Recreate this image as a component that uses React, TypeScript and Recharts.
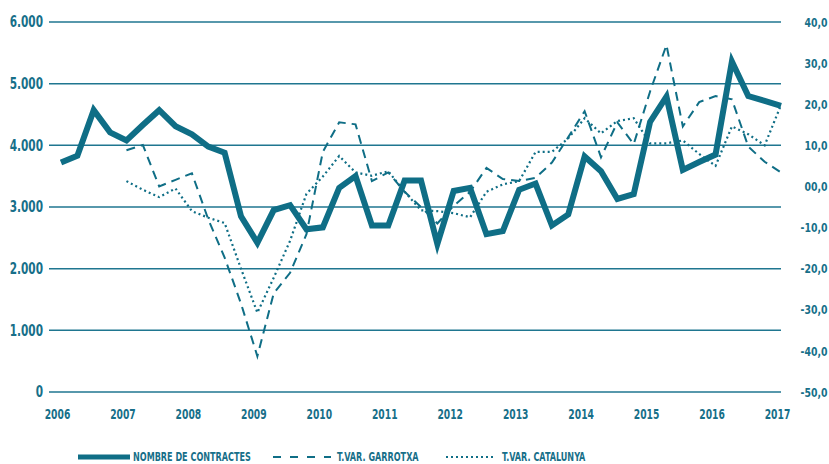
import React from 'react';
import { LineChart, Line, XAxis, YAxis, CartesianGrid } from 'recharts';

const FONT = "'Liberation Sans Narrow','DejaVu Sans Condensed','Arial Narrow',sans-serif";
const TEAL = '#0f6e86';
const GRID = '#1f7690';
const TEXT = '#176f89';

const quarters = [
  '2006T1', '2006T2', '2006T3', '2006T4',
  '2007T1', '2007T2', '2007T3', '2007T4',
  '2008T1', '2008T2', '2008T3', '2008T4',
  '2009T1', '2009T2', '2009T3', '2009T4',
  '2010T1', '2010T2', '2010T3', '2010T4',
  '2011T1', '2011T2', '2011T3', '2011T4',
  '2012T1', '2012T2', '2012T3', '2012T4',
  '2013T1', '2013T2', '2013T3', '2013T4',
  '2014T1', '2014T2', '2014T3', '2014T4',
  '2015T1', '2015T2', '2015T3', '2015T4',
  '2016T1', '2016T2', '2016T3', '2016T4',
  '2017T1',
];

const contractes = [
  3720, 3830, 4570, 4210, 4080, 4330, 4570, 4310, 4180, 3980, 3880, 2850,
  2420, 2950, 3030, 2640, 2670, 3310, 3500, 2700, 2700, 3430, 3430, 2400,
  3260, 3310, 2560, 2610, 3280, 3380, 2700, 2880, 3820, 3580, 3130, 3210,
  4380, 4790, 3600, 3730, 3850, 5360, 4800, 4720, 4640,
];

const garrotxa: (number | null)[] = [
  null, null, null, null,
  8.8, 10.1, 0, 1.6, 3.2, -8, -17.3, -28.5, -41.3, -26, -21, -11.6,
  8.4, 15.6, 15.1, 1.3, 3.4, -1.3, -5, -9, -4.7, -1.3, 4.5, 1.8,
  1.3, 2.1, 5.8, 12, 18.3, 7.1, 15.6, 10.3, 23.1, 34.4, 14.6, 20.5,
  22, 21.2, 9.7, 6, 3.4,
];

const catalunya: (number | null)[] = [
  null, null, null, null,
  1.3, -0.8, -2.6, -0.5, -6, -7.6, -8.9, -20, -30.7, -22.2, -13.2, -1.8,
  2.4, 7.4, 3.4, 2.6, 3.7, -1.3, -5.8, -6, -6.5, -7.5, -1.3, 0.5,
  1.3, 8.4, 8.4, 11.7, 16.6, 12.9, 15.9, 16.6, 10.5, 10.5, 11.2, 7.9,
  5, 14.6, 12.7, 10, 19.8,
];

const leftTicks = [0, 1000, 2000, 3000, 4000, 5000, 6000];
const rightTicks = [-50, -40, -30, -20, -10, 0, 10, 20, 30, 40];

const legendLabels = ['NOMBRE DE CONTRACTES', 'T.VAR. GARROTXA', 'T.VAR. CATALUNYA'];

const data = quarters.map((q, i) => ({
  q,
  c: contractes[i],
  g: garrotxa[i],
  cat: catalunya[i],
}));

const fmtLeft = (v: number) => (v === 0 ? '0' : `${v / 1000}.000`);
const fmtRight = (v: number) => (v === 0 ? '00,0' : `${v},0`);

const Narrow = ({ x, y, sx, size, anchor, dy, children }: any) => (
  <g transform={`translate(${x},${y}) scale(${sx},1)`}>
    <text x={0} y={0} dy={dy} textAnchor={anchor} fill={TEXT}
      fontFamily={FONT} fontWeight={700} fontSize={size}>
      {children}
    </text>
  </g>
);

const XTick = (props: any) => {
  const { x, y, payload } = props;
  return (
    <Narrow x={x - 3.5} y={y} sx={0.73} size={14} anchor="middle" dy="0.71em">
      {String(payload.value).slice(0, 4)}
    </Narrow>
  );
};

const LTick = (props: any) => {
  const { x, y, payload } = props;
  return (
    <Narrow x={x} y={y} sx={0.78} size={15} anchor="end" dy="0.355em">
      {fmtLeft(payload.value)}
    </Narrow>
  );
};

const RTick = (props: any) => {
  const { x, y, payload } = props;
  return (
    <Narrow x={x} y={y} sx={0.8} size={13} anchor="end" dy="0.355em">
      {fmtRight(payload.value)}
    </Narrow>
  );
};

export default function App() {
  return (
    <div style={{ position: 'absolute', left: 0, top: 0, width: 829, height: 464, background: '#fff' }}>
      <LineChart width={829} height={464} data={data}
        margin={{ top: 22, right: 0, bottom: 42, left: 0 }}>
        <CartesianGrid yAxisId="l" vertical={false} stroke={GRID} strokeWidth={1.5} />
        <XAxis dataKey="q" interval={3} tick={<XTick />} axisLine={false} tickLine={false}
          tickSize={0} tickMargin={17} height={30} padding={{ left: 12, right: 0 }} />
        <YAxis yAxisId="l" domain={[0, 6000]} ticks={leftTicks} tick={<LTick />}
          axisLine={false} tickLine={false} tickSize={0} tickMargin={6} width={49} />
        <YAxis yAxisId="r" orientation="right" domain={[-50, 40]} ticks={rightTicks} tick={<RTick />}
          axisLine={false} tickLine={false} tickSize={0} tickMargin={46.5} width={48} />
        <Line yAxisId="l" type="linear" dataKey="c" stroke={TEAL} strokeWidth={6}
          dot={false} activeDot={false} isAnimationActive={false} />
        <Line yAxisId="r" type="linear" dataKey="g" stroke={TEAL} strokeWidth={2}
          strokeDasharray="9 6" dot={false} activeDot={false} isAnimationActive={false} />
        <Line yAxisId="r" type="linear" dataKey="cat" stroke={TEAL} strokeWidth={2.2}
          strokeDasharray="2 3" dot={false} activeDot={false} isAnimationActive={false} />
      </LineChart>
      <svg width={829} height={464} style={{ position: 'absolute', left: 0, top: 0, pointerEvents: 'none' }}>
        <line x1={78} x2={130} y1={457} y2={457} stroke={TEAL} strokeWidth={5} />
        <Narrow x={133} y={460.5} sx={0.72} size={12.5} anchor="start" dy={0}>{legendLabels[0]}</Narrow>
        <line x1={273} x2={331} y1={457} y2={457} stroke={TEAL} strokeWidth={2} strokeDasharray="8 9" />
        <Narrow x={337} y={460.5} sx={0.72} size={12.5} anchor="start" dy={0}>{legendLabels[1]}</Narrow>
        <line x1={446} x2={496} y1={457} y2={457} stroke={TEAL} strokeWidth={2} strokeDasharray="2 3" />
        <Narrow x={502} y={460.5} sx={0.72} size={12.5} anchor="start" dy={0}>{legendLabels[2]}</Narrow>
      </svg>
    </div>
  );
}
